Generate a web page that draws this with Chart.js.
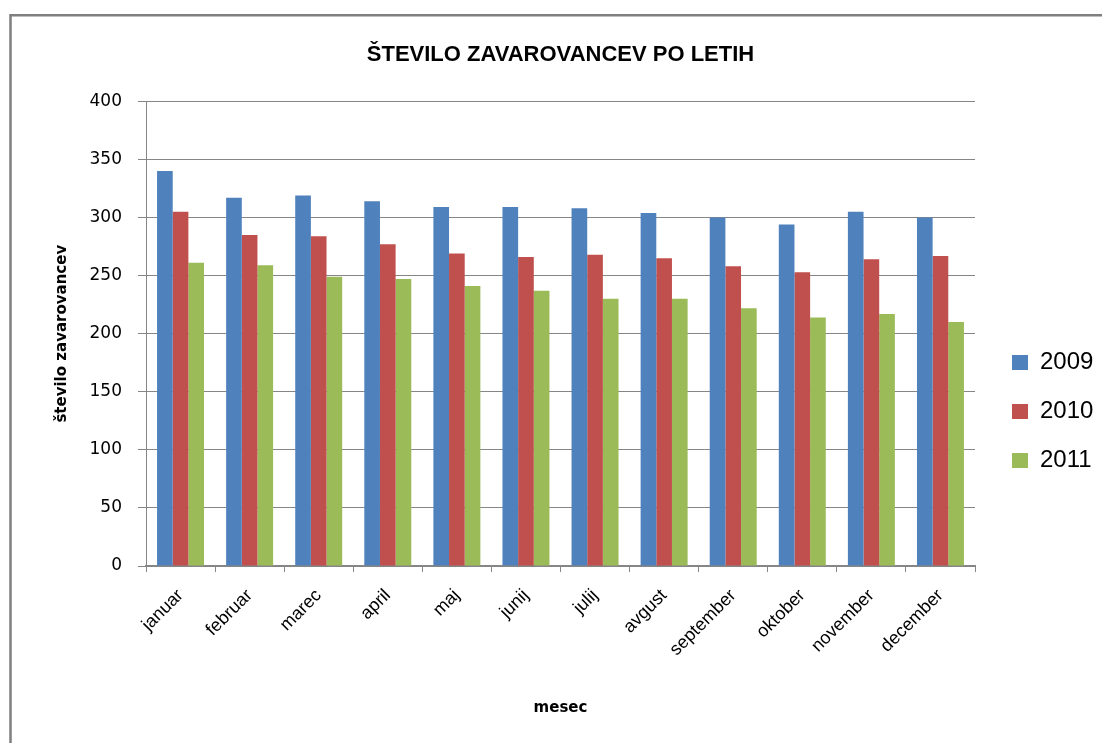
<!DOCTYPE html>
<html>
<head>
<meta charset="utf-8">
<title>Število zavarovancev po letih</title>
<script src="https://cdn.jsdelivr.net/npm/chart.js"></script>
<style>
  html, body { margin: 0; padding: 0; background: #fff; }
  #graph1 { display: block; }
</style>
</head>
<body>
<canvas id="graph1" width="1102" height="743"></canvas>
<script>
// data
const months = ['januar', 'februar', 'marec', 'april', 'maj', 'junij', 'julij', 'avgust', 'september', 'oktober', 'november', 'december'];
const years = ['2009', '2010', '2011'];
const values2009 = [340, 317, 319, 314, 309, 309, 308, 304, 300, 294, 305, 300];
const values2010 = [305, 285, 284, 277, 269, 266, 268, 265, 258, 253, 264, 267];
const values2011 = [261, 259, 249, 247, 241, 237, 230, 230, 222, 214, 217, 210];
const yTicks = [0, 50, 100, 150, 200, 250, 300, 350, 400];

const colors = ['#4F81BD', '#C0504D', '#9BBB59'];
const gridGray = '#868686';

// white page + the frame line on the left and top
const framePlugin = {
  id: 'frame',
  beforeDraw: chart => {
    const ctx = chart.ctx;
    ctx.save();
    ctx.fillStyle = '#fff';
    ctx.fillRect(0, 0, chart.width, chart.height);
    ctx.strokeStyle = '#7f7f7f';
    ctx.lineWidth = 2.5;
    ctx.beginPath();
    ctx.moveTo(10.5, chart.height + 5);
    ctx.lineTo(10.5, 15.3);
    ctx.lineTo(chart.width + 5, 15.3);
    ctx.stroke();
    ctx.restore();
  }
};

// nudge the legend to where the original had it
const legendShift = {
  id: 'legendShift',
  afterLayout: chart => {
    const l = chart.legend;
    l.left += 12; l.right += 12;
    l.top += 40; l.bottom += 40;
  }
};

const initGraphix = () => {
  const graphique = document.querySelector('#graph1');
  Chart.defaults.color = '#000';
  Chart.defaults.font.family = "'Liberation Sans', Arial, sans-serif";

  const graph = new Chart(graphique, {
    type: 'bar',
    data: {
      labels: months,
      datasets: [
        { label: years[0], data: values2009, backgroundColor: colors[0] },
        { label: years[1], data: values2010, backgroundColor: colors[1] },
        { label: years[2], data: values2011, backgroundColor: colors[2] }
      ]
    },
    plugins: [framePlugin, legendShift],
    options: {
      responsive: false,
      animation: false,
      events: [],
      layout: { padding: { top: 0, left: 0, right: 17, bottom: 0 } },
      datasets: {
        bar: { categoryPercentage: 0.68, barPercentage: 1.0, borderWidth: 0 }
      },
      plugins: {
        tooltip: { enabled: false },
        title: {
          display: true,
          text: 'ŠTEVILO ZAVAROVANCEV PO LETIH',
          fullSize: false,
          color: '#000',
          font: { size: 22, weight: 'bold' },
          padding: { top: 42, bottom: 33 }
        },
        legend: {
          position: 'right',
          align: 'center',
          maxWidth: 110,
          labels: {
            boxWidth: 16,
            boxHeight: 15,
            padding: 25,
            color: '#000',
            font: { size: 24 }
          }
        }
      },
      scales: {
        x: {
          afterFit: s => { s.height = 177; },
          grid: {
            offset: true,
            drawOnChartArea: false,
            drawTicks: true,
            tickLength: 6,
            color: gridGray
          },
          border: { display: true, color: gridGray, width: 2 },
          ticks: {
            autoSkip: false,
            minRotation: 45,
            maxRotation: 45,
            padding: 13,
            color: '#000',
            font: { size: 18 }
          },
          title: {
            display: true,
            text: 'mesec',
            color: '#000',
            font: { family: "'DejaVu Sans', sans-serif", size: 15, weight: 'bold' },
            padding: { top: 0, bottom: 26 }
          }
        },
        y: {
          min: yTicks[0],
          max: yTicks[yTicks.length - 1],
          afterFit: s => { s.width = 146; },
          afterBuildTicks: s => { s.ticks = yTicks.map(v => ({ value: v })); },
          grid: {
            color: gridGray,
            lineWidth: 1,
            drawTicks: true,
            tickLength: 8
          },
          border: { display: true, color: gridGray, width: 1 },
          ticks: {
            padding: 16,
            color: '#000',
            font: { family: "'DejaVu Sans', sans-serif", size: 17 }
          },
          title: {
            display: true,
            text: 'število zavarovancev',
            color: '#000',
            font: { family: "'DejaVu Sans', sans-serif", size: 15, weight: 'bold' },
            padding: { top: 53, bottom: 0 }
          }
        }
      }
    }
  });
};

initGraphix();
</script>
</body>
</html>
